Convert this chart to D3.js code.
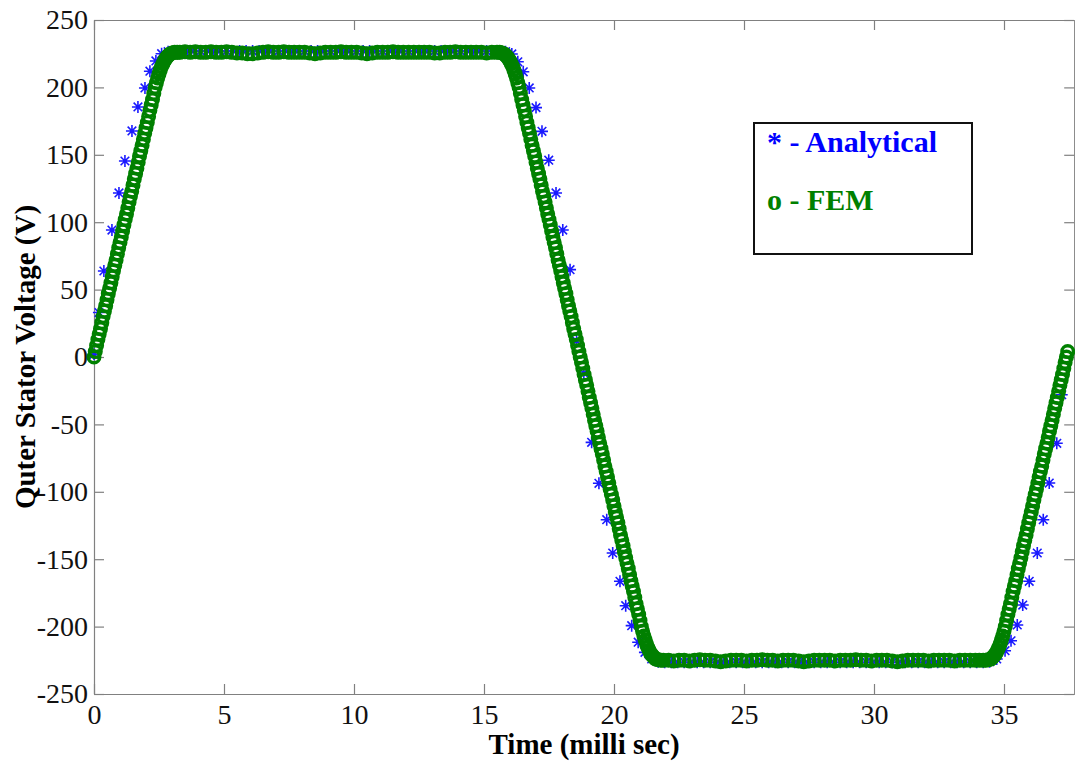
<!DOCTYPE html>
<html>
<head>
<meta charset="utf-8">
<script src="https://cdn.jsdelivr.net/npm/d3@7"></script>
<style>
  body { margin: 0; background: #fff; }
  text { font-family: "Liberation Serif", "Times New Roman", serif; }
</style>
</head>
<body>
<svg id="chart" width="1075" height="763"></svg>
<script>
// Tick values
const xTicks = [0, 5, 10, 15, 20, 25, 30, 35];
const yTicks = [-250, -200, -150, -100, -50, 0, 50, 100, 150, 200, 250];

// Analytical outer stator voltage: [time (ms), volts]
const analytical = [
  [0, 2], [0.19, 33], [0.38, 63.8], [0.69, 94.2], [0.96, 121.7], [1.19, 145.4], [1.46, 167.7],
  [1.69, 185.5], [1.96, 199.6], [2.15, 212], [2.38, 219.6], [2.6, 225], [2.85, 226.5],
  [3.1, 227], [3.35, 227], [3.6, 227], [3.85, 227], [4.1, 227], [4.35, 227], [4.6, 227], [4.85, 227],
  [5.1, 227], [5.35, 227], [5.6, 227], [5.85, 227], [6.1, 227], [6.35, 227], [6.6, 227], [6.85, 227],
  [7.1, 227], [7.35, 227], [7.6, 227], [7.85, 227], [8.1, 227], [8.35, 227], [8.6, 227], [8.85, 227],
  [9.1, 227], [9.35, 227], [9.6, 227], [9.85, 227], [10.1, 227], [10.35, 227], [10.6, 227], [10.85, 227],
  [11.1, 227], [11.35, 227], [11.6, 227], [11.85, 227], [12.1, 227], [12.35, 227], [12.6, 227], [12.85, 227],
  [13.1, 227], [13.35, 227], [13.6, 227], [13.85, 227], [14.1, 227], [14.35, 227], [14.6, 227], [14.85, 227],
  [15.1, 227], [15.35, 227], [15.6, 227], [15.83, 226.5], [16.07, 224.8], [16.3, 219], [16.51, 211.6],
  [16.74, 199.6], [17.0, 185], [17.23, 167.4], [17.49, 146], [17.77, 121.7], [18.03, 94.2], [18.31, 64.8],
  [18.56, 12], [18.84, -12], [19.14, -63.3], [19.42, -93.7], [19.72, -120.7], [19.95, -145.4],
  [20.23, -166.4], [20.45, -184.5], [20.68, -199.3], [20.93, -211.6], [21.19, -219.1], [21.45, -224],
  [21.7, -226], [21.95, -226.5], [22.2, -226.5], [22.45, -226.5], [22.7, -226.5], [22.95, -226.5], [23.2, -226.5],
  [23.45, -226.5], [23.7, -226.5], [23.95, -226.5], [24.2, -226.5], [24.45, -226.5], [24.7, -226.5], [24.95, -226.5],
  [25.2, -226.5], [25.45, -226.5], [25.7, -226.5], [25.95, -226.5], [26.2, -226.5], [26.45, -226.5], [26.7, -226.5],
  [26.95, -226.5], [27.2, -226.5], [27.45, -226.5], [27.7, -226.5], [27.95, -226.5], [28.2, -226.5], [28.45, -226.5],
  [28.7, -226.5], [28.95, -226.5], [29.2, -226.5], [29.45, -226.5], [29.7, -226.5], [29.95, -226.5], [30.2, -226.5],
  [30.45, -226.5], [30.7, -226.5], [30.95, -226.5], [31.2, -226.5], [31.45, -226.5], [31.7, -226.5], [31.95, -226.5],
  [32.2, -226.5], [32.45, -226.5], [32.7, -226.5], [32.95, -226.5], [33.2, -226.5], [33.45, -226.5], [33.7, -226.5],
  [33.95, -226.5], [34.2, -226.5], [34.45, -226], [34.72, -224], [35.04, -217.9], [35.27, -210.5],
  [35.51, -198.8], [35.72, -184], [35.97, -166.4], [36.28, -145.4], [36.51, -120.7], [36.74, -93.5],
  [37.03, -64], [37.22, -28]
];

// FEM outer stator voltage, in five stretches: [time (ms), volts]
const femRise1 = [
  [0, 0], [0.05, 4], [0.1, 8.5], [0.15, 13], [0.2, 17], [0.25, 21], [0.3, 25.5], [0.35, 30], [0.4, 34],
  [0.45, 38], [0.5, 42.5], [0.55, 47], [0.6, 51], [0.65, 55], [0.7, 59.5], [0.75, 64], [0.8, 68],
  [0.85, 72], [0.9, 76.5], [0.95, 81], [1, 85], [1.05, 89], [1.1, 93.5], [1.15, 98], [1.2, 102],
  [1.25, 106], [1.3, 110.5], [1.35, 115], [1.4, 119], [1.45, 123], [1.5, 127.5], [1.55, 132], [1.6, 136],
  [1.65, 140], [1.7, 144.5], [1.75, 149], [1.8, 153], [1.85, 157], [1.9, 161.5], [1.95, 166], [2, 170],
  [2.05, 174], [2.1, 178.5], [2.15, 183], [2.2, 187], [2.25, 191], [2.3, 195.5], [2.35, 200],
  [2.4, 203.5], [2.45, 207], [2.5, 210], [2.55, 213], [2.6, 215.5], [2.65, 217.5], [2.7, 219.5],
  [2.75, 221], [2.8, 222.5], [2.85, 223.5], [2.9, 224.5], [3, 225.5], [3.1, 226], [3.2, 226]
];
const femTop = [
  [3.3, 226], [3.5, 226.5], [3.7, 226], [3.9, 226.5], [4.1, 226], [4.3, 226], [4.5, 226.5], [4.7, 226],
  [4.9, 226], [5.1, 226.5], [5.3, 226], [5.5, 225.5], [5.7, 225.5], [5.9, 225], [6.1, 225], [6.3, 225.5],
  [6.5, 226], [6.7, 226.5], [6.9, 226], [7.1, 226], [7.3, 226.5], [7.5, 226], [7.7, 226], [7.9, 226],
  [8.1, 226], [8.3, 225.5], [8.5, 225], [8.7, 225.5], [8.9, 226], [9.1, 226], [9.3, 226], [9.5, 226.5],
  [9.7, 226], [9.9, 226], [10.1, 226], [10.3, 225.5], [10.5, 225], [10.7, 225.5], [10.9, 226], [11.1, 226],
  [11.3, 226], [11.5, 226.5], [11.7, 226], [11.9, 226], [12.1, 226], [12.3, 226], [12.5, 226], [12.7, 226],
  [12.9, 226], [13.1, 225.5], [13.3, 225.5], [13.5, 226], [13.7, 226], [13.9, 226.5], [14.1, 226],
  [14.3, 226], [14.5, 226], [14.7, 226], [14.9, 226], [15.1, 225.5], [15.3, 226]
];
const femFall = [
  [15.5, 226], [15.6, 226], [15.7, 225.5], [15.8, 224.5], [15.85, 223.5], [15.9, 222.5], [15.95, 221],
  [16, 219.5], [16.05, 217.5], [16.1, 215.5], [16.15, 213], [16.2, 210], [16.25, 207], [16.3, 203.5],
  [16.35, 200], [16.4, 195.5], [16.45, 191], [16.5, 187], [16.55, 183], [16.6, 178.5], [16.65, 174],
  [16.7, 170], [16.75, 166], [16.8, 161.5], [16.85, 157], [16.9, 153], [16.95, 149], [17, 144.5],
  [17.05, 140], [17.1, 136], [17.15, 132], [17.2, 127.5], [17.25, 123], [17.3, 119], [17.35, 115],
  [17.4, 110.5], [17.45, 106], [17.5, 102], [17.55, 98], [17.6, 93.5], [17.65, 89], [17.7, 85],
  [17.75, 81], [17.8, 76.5], [17.85, 72], [17.9, 68], [17.95, 64], [18, 59.5], [18.05, 55], [18.1, 51],
  [18.15, 47], [18.2, 42.5], [18.25, 38], [18.3, 34], [18.35, 30], [18.4, 25.5], [18.45, 21], [18.5, 17],
  [18.55, 13], [18.6, 8.5], [18.65, 4], [18.7, 0], [18.75, -4], [18.8, -8.5], [18.85, -13], [18.9, -17],
  [18.95, -21], [19, -25.5], [19.05, -30], [19.1, -34], [19.15, -38], [19.2, -42.5], [19.25, -47],
  [19.3, -51], [19.35, -55], [19.4, -59.5], [19.45, -64], [19.5, -68], [19.55, -72], [19.6, -76.5],
  [19.65, -81], [19.7, -85], [19.75, -89], [19.8, -93.5], [19.85, -98], [19.9, -102], [19.95, -106],
  [20, -110.5], [20.05, -115], [20.1, -119], [20.15, -123], [20.2, -127.5], [20.25, -132], [20.3, -136],
  [20.35, -140], [20.4, -144.5], [20.45, -149], [20.5, -153], [20.55, -157], [20.6, -161.5], [20.65, -166],
  [20.7, -170], [20.75, -174], [20.8, -178.5], [20.85, -183], [20.9, -187], [20.95, -191], [21, -195.5],
  [21.05, -200], [21.1, -203.5], [21.15, -207], [21.2, -210], [21.25, -213], [21.3, -215.5],
  [21.35, -217.5], [21.4, -219.5], [21.45, -221], [21.5, -222], [21.55, -223], [21.6, -224],
  [21.7, -224.5], [21.8, -225], [21.9, -225]
];
const femBottom = [
  [22.1, -225], [22.3, -225.5], [22.5, -225], [22.7, -225], [22.9, -225.5], [23.1, -225], [23.3, -224.5],
  [23.5, -225], [23.7, -225], [23.9, -225.5], [24.1, -226], [24.3, -225.5], [24.5, -225], [24.7, -225],
  [24.9, -225], [25.1, -225.5], [25.3, -225], [25.5, -225], [25.7, -224.5], [25.9, -225], [26.1, -225],
  [26.3, -225.5], [26.5, -225], [26.7, -225], [26.9, -225], [27.1, -225.5], [27.3, -226], [27.5, -225.5],
  [27.7, -225], [27.9, -225], [28.1, -225], [28.3, -225], [28.5, -225.5], [28.7, -225], [28.9, -225],
  [29.1, -225], [29.3, -224.5], [29.5, -225], [29.7, -225], [29.9, -225.5], [30.1, -225], [30.3, -225],
  [30.5, -225], [30.7, -225.5], [30.9, -226], [31.1, -225.5], [31.3, -225], [31.5, -225], [31.7, -225],
  [31.9, -225], [32.1, -225.5], [32.3, -225], [32.5, -225], [32.7, -225], [32.9, -225], [33.1, -225.5],
  [33.3, -225], [33.5, -225], [33.7, -225], [33.9, -225], [34.05, -225]
];
const femRise2 = [
  [34.2, -225], [34.3, -225], [34.4, -224.5], [34.5, -224], [34.55, -223], [34.6, -222], [34.65, -221],
  [34.7, -219.5], [34.75, -217.5], [34.8, -215.5], [34.85, -213], [34.9, -210], [34.95, -207],
  [35, -203.5], [35.05, -200], [35.1, -195.5], [35.15, -191], [35.2, -187], [35.25, -183], [35.3, -178.5],
  [35.35, -174], [35.4, -170], [35.45, -166], [35.5, -161.5], [35.55, -157], [35.6, -153], [35.65, -149],
  [35.7, -144.5], [35.75, -140], [35.8, -136], [35.85, -132], [35.9, -127.5], [35.95, -123], [36, -119],
  [36.05, -115], [36.1, -110.5], [36.15, -106], [36.2, -102], [36.25, -98], [36.3, -93.5], [36.35, -89],
  [36.4, -85], [36.45, -81], [36.5, -76.5], [36.55, -72], [36.6, -68], [36.65, -64], [36.7, -59.5],
  [36.75, -55], [36.8, -51], [36.85, -47], [36.9, -42.5], [36.95, -38], [37, -34], [37.05, -30],
  [37.1, -25.5], [37.15, -21], [37.2, -17], [37.25, -13], [37.3, -8.5], [37.35, -4], [37.4, 0], [37.45, 4]
];

const legendItems = [
  { label: "* - Analytical", color: "#0000ff" },
  { label: "o - FEM", color: "#008000" }
];

const fem = [].concat(femRise1, femTop, femFall, femBottom, femRise2);

const svg = d3.select("#chart");
const plot = { left: 94, right: 1074.2, top: 20, bottom: 694 };

const x = d3.scaleLinear().domain([0, 37.7]).range([plot.left, plot.right]);
const y = d3.scaleLinear().domain([-250, 250]).range([plot.bottom, plot.top]);

const axisColor = "#808080";
const fmt = d => String(d);

function styleAxis(g) {
  g.selectAll("path.domain").attr("stroke", axisColor).attr("stroke-width", 1.2);
  g.selectAll(".tick line").attr("stroke", axisColor).attr("stroke-width", 1.2);
  g.selectAll(".tick text")
    .attr("fill", "#111")
    .style("font-family", '"Liberation Serif", "Times New Roman", serif')
    .style("font-size", "28px");
}

svg.append("g").attr("transform", `translate(0,${plot.bottom})`)
  .call(d3.axisBottom(x).tickValues(xTicks).tickFormat(fmt).tickSize(-10).tickSizeOuter(0).tickPadding(10))
  .call(styleAxis);
svg.append("g").attr("transform", `translate(0,${plot.top})`)
  .call(d3.axisTop(x).tickValues(xTicks).tickFormat("").tickSize(-10).tickSizeOuter(0))
  .call(styleAxis);
svg.append("g").attr("transform", `translate(${plot.left},0)`)
  .call(d3.axisLeft(y).tickValues(yTicks).tickFormat(fmt).tickSize(-10).tickSizeOuter(0).tickPadding(6))
  .call(styleAxis);
svg.append("g").attr("transform", `translate(${plot.right},0)`)
  .call(d3.axisRight(y).tickValues(yTicks).tickFormat("").tickSize(-10).tickSizeOuter(0))
  .call(styleAxis);

// Analytical samples: eight-armed asterisks
const starPath = "M-6,0H6M0,-6V6M-4.3,-4.3L4.3,4.3M-4.3,4.3L4.3,-4.3";
svg.append("g")
  .selectAll("path")
  .data(analytical)
  .join("path")
  .attr("d", starPath)
  .attr("transform", d => `translate(${x(d[0])},${y(d[1])})`)
  .attr("fill", "none")
  .attr("stroke", "#1a1aff")
  .attr("stroke-width", 1.6);

// FEM samples: open circles, packed tightly enough to read as a band
svg.append("g")
  .selectAll("circle")
  .data(fem)
  .join("circle")
  .attr("cx", d => x(d[0]))
  .attr("cy", d => y(d[1]))
  .attr("r", 5.8)
  .attr("fill", "none")
  .attr("stroke", "#008000")
  .attr("stroke-width", 3.4);

// Legend
const lg = svg.append("g");
lg.append("rect")
  .attr("x", 754).attr("y", 123).attr("width", 218).attr("height", 131)
  .attr("fill", "#fff").attr("stroke", "#111").attr("stroke-width", 2);
lg.selectAll("text")
  .data(legendItems)
  .join("text")
  .attr("x", 767)
  .attr("y", (d, i) => 152 + i * 58)
  .attr("fill", d => d.color)
  .style("font-size", "30px")
  .style("font-weight", "bold")
  .text(d => d.label);

// Axis titles
svg.append("text")
  .attr("x", (plot.left + plot.right) / 2).attr("y", 754)
  .attr("text-anchor", "middle")
  .attr("fill", "#000")
  .style("font-size", "29px").style("font-weight", "bold")
  .text("Time (milli sec)");
svg.append("text")
  .attr("transform", `translate(35,${(plot.top + plot.bottom) / 2}) rotate(-90)`)
  .attr("text-anchor", "middle")
  .attr("fill", "#000")
  .style("font-size", "29px").style("font-weight", "bold")
  .text("Quter Stator Voltage (V)");
</script>
</body>
</html>
